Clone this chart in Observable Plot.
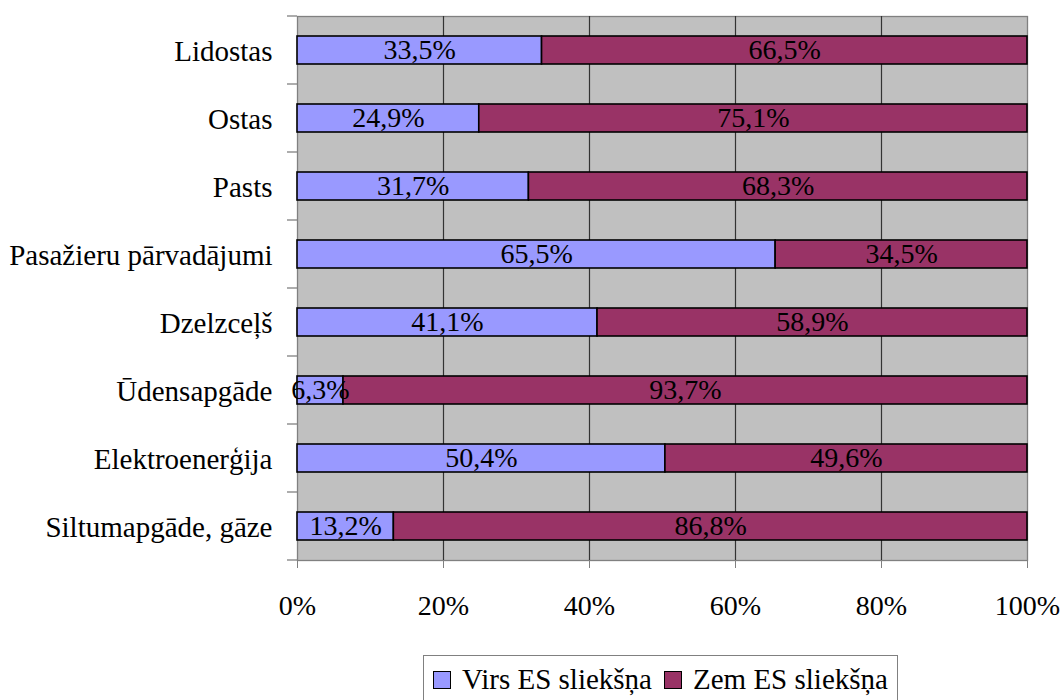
<!DOCTYPE html>
<html>
<head>
<meta charset="utf-8">
<script src="https://cdn.jsdelivr.net/npm/d3@7"></script>
<script src="https://cdn.jsdelivr.net/npm/@observablehq/plot@0.6"></script>
<style>
  body { margin: 0; background: white; font-family: "Liberation Serif", Tinos, "Times New Roman", Times, "DejaVu Serif", serif; }
  #chart { position: absolute; left: 0; top: 0; }
  #legend { position: absolute; left: 423px; top: 655px; width: 475px; height: 60px; border: 1px solid #808080; box-sizing: border-box; font-size: 29px; color: black; white-space: nowrap; }
  .item { position: absolute; top: 7px; display: flex; align-items: center; }
  .sw { width: 16px; height: 16px; border: 1.5px solid black; margin-right: 11px; }
  svg text { font-family: "Liberation Serif", Tinos, "Times New Roman", Times, "DejaVu Serif", serif; }
</style>
</head>
<body>
<div id="chart"></div>
<div id="legend"></div>
<script>
const categories = ["Lidostas", "Ostas", "Pasts", "Pasažieru pārvadājumi", "Dzelzceļš", "Ūdensapgāde", "Elektroenerģija", "Siltumapgāde, gāze"];
const virs = [33.5, 24.9, 31.7, 65.5, 41.1, 6.3, 50.4, 13.2];
const zem = [66.5, 75.1, 68.3, 34.5, 58.9, 93.7, 49.6, 86.8];
const seriesNames = ["Virs ES sliekšņa", "Zem ES sliekšņa"];
const seriesColors = ["#9999ff", "#993366"];
const xTicks = [0, 20, 40, 60, 80, 100];

const rows = [];
[virs, zem].forEach((vals, s) => vals.forEach((v, i) => rows.push({cat: categories[i], series: seriesNames[s], value: v})));
const fmt = v => v.toFixed(1).replace(".", ",") + "%";

const plot = Plot.plot({
  width: 1061, height: 650,
  marginLeft: 297, marginRight: 34, marginTop: 16, marginBottom: 90,
  style: {fontSize: "28px", color: "black", background: "white", overflow: "visible"},
  x: {domain: [0, 100], label: null},
  y: {domain: categories, paddingInner: 0.59, paddingOuter: 0.295, label: null},
  color: {domain: seriesNames, range: seriesColors},
  marks: [
    Plot.frame({fill: "#c0c0c0", stroke: "#808080", strokeWidth: 1.3}),
    Plot.ruleX(xTicks.slice(1, -1), {stroke: "#333", strokeWidth: 1.2}),
    Plot.barX(rows, Plot.stackX({x: "value", y: "cat", fill: "series", stroke: "black", strokeWidth: 1.6})),
    Plot.text(rows, Plot.stackX({x: "value", y: "cat", text: d => fmt(d.value), fill: "black", fontSize: 28})),
    Plot.axisX({ticks: xTicks, tickFormat: d => d + "%", tickSize: 8, tickPadding: 27, stroke: "#808080", fontSize: 28, label: null}),
    Plot.axisY({tickSize: 0, tickPadding: 25, fontSize: 29, dy: 1, label: null})
  ]
});
document.getElementById("chart").appendChild(plot);

// category boundary ticks on the left axis, from the y scale
const ys = plot.scale("y");
const xs = plot.scale("x");
const step = ys.step, bw = ys.bandwidth;
const x0 = xs.apply(0);
const bounds = categories.map(c => ys.apply(c) - (step - bw) / 2);
bounds.push(ys.apply(categories[categories.length - 1]) + bw + (step - bw) / 2);
const svg = d3.select(plot);
svg.append("g").selectAll("line").data(bounds).join("line")
  .attr("x1", x0 - 10).attr("x2", x0).attr("y1", d => d).attr("y2", d => d)
  .attr("stroke", "#808080").attr("stroke-width", 1.3);

// legend
const lg = d3.select("#legend");
const lx = [9, 240];
seriesNames.forEach((n, i) => {
  const it = lg.append("div").attr("class", "item").style("left", lx[i] + "px");
  it.append("div").attr("class", "sw").style("background", seriesColors[i]);
  it.append("span").text(n);
});
</script>
</body>
</html>
